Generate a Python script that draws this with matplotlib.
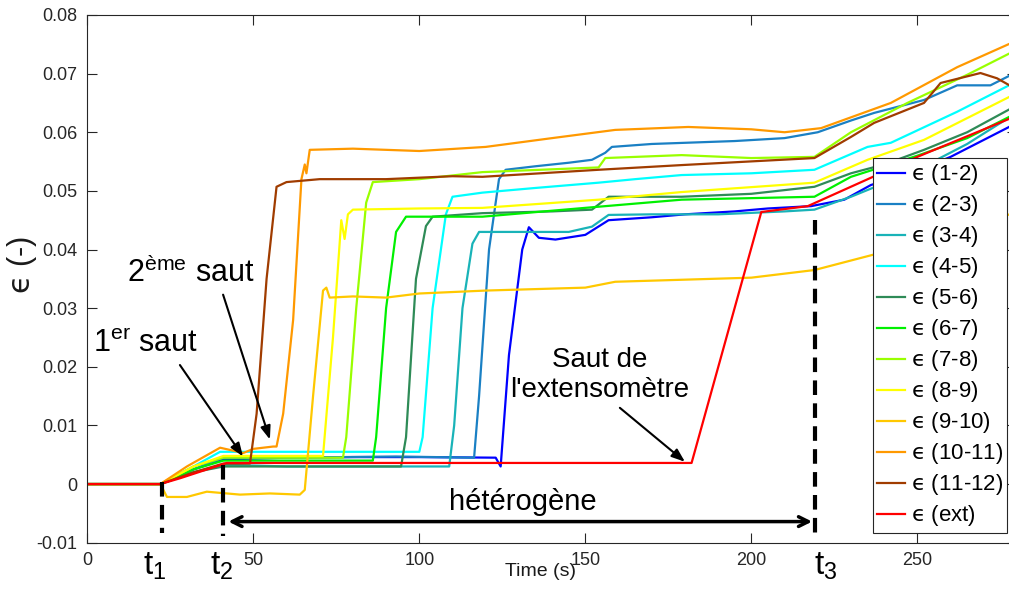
import matplotlib
matplotlib.use("Agg")
import matplotlib.pyplot as plt

plt.rcParams['font.family'] = ['Liberation Sans', 'DejaVu Sans']
plt.rcParams['mathtext.fontset'] = 'dejavusans'

# --- data (time in s, strain in -) ---
t_12 = [0, 22, 32, 41, 60, 80, 100, 123, 124.5, 127, 131, 133, 136, 141, 150, 157, 170, 180, 195, 205, 218, 228, 236, 250, 260, 279]
e_12 = [0, 0, 0.0025, 0.0042, 0.0045, 0.0046, 0.0046, 0.0045, 0.003, 0.022, 0.040, 0.0438, 0.042, 0.0417, 0.0425, 0.045, 0.0455, 0.046, 0.0465, 0.047, 0.0474, 0.0485, 0.051, 0.0535, 0.0558, 0.0613]

t_23 = [0, 22, 32, 41, 60, 93, 116.5, 118, 121, 124, 126, 135, 145, 152, 156, 158, 170, 180, 195, 210, 220, 230, 237, 252, 262, 272, 279]
e_23 = [0, 0, 0.0025, 0.0045, 0.0045, 0.0047, 0.0045, 0.015, 0.040, 0.052, 0.0536, 0.0542, 0.0548, 0.0553, 0.0565, 0.0575, 0.058, 0.0582, 0.0585, 0.059, 0.060, 0.062, 0.0633, 0.0655, 0.068, 0.068, 0.070]

t_34 = [0, 22, 32, 41, 60, 80, 100, 109, 110.5, 113, 116, 118, 125, 132, 145, 152, 157, 170, 190, 210, 219, 230, 250, 265, 279]
e_34 = [0, 0, 0.002, 0.0033, 0.003, 0.003, 0.003, 0.003, 0.010, 0.030, 0.041, 0.043, 0.043, 0.043, 0.043, 0.0439, 0.0459, 0.046, 0.046, 0.0465, 0.0468, 0.049, 0.0536, 0.058, 0.063]

t_45 = [0, 22, 32, 40, 60, 80, 100, 101, 104, 108, 110, 119, 135, 154, 165, 179, 200, 219, 235, 242, 262, 279]
e_45 = [0, 0, 0.003, 0.0055, 0.0055, 0.0055, 0.0055, 0.008, 0.030, 0.046, 0.049, 0.0497, 0.0505, 0.0514, 0.052, 0.0527, 0.053, 0.0536, 0.0575, 0.0582, 0.0635, 0.0684]

t_56 = [0, 22, 32, 41, 60, 80, 94.5, 96, 99, 102, 104, 119, 140, 152, 157, 179, 200, 219, 230, 240, 252, 265, 279]
e_56 = [0, 0, 0.002, 0.003, 0.003, 0.003, 0.003, 0.008, 0.035, 0.044, 0.0456, 0.0462, 0.0465, 0.0468, 0.049, 0.049, 0.0495, 0.0507, 0.053, 0.0545, 0.057, 0.060, 0.0643]

t_67 = [0, 22, 32, 41, 60, 86, 87, 90, 93, 96, 119, 154, 179, 219, 230, 250, 265, 279]
e_67 = [0, 0, 0.0025, 0.004, 0.004, 0.004, 0.008, 0.030, 0.043, 0.0456, 0.0456, 0.0473, 0.0485, 0.049, 0.0524, 0.056, 0.059, 0.063]

t_78 = [0, 22, 32, 41, 60, 77, 78, 81, 84, 86, 100, 119, 154, 156, 179, 200, 219, 230, 247, 265, 279]
e_78 = [0, 0, 0.003, 0.0045, 0.0045, 0.0045, 0.008, 0.030, 0.048, 0.0515, 0.052, 0.0532, 0.054, 0.0556, 0.0561, 0.0556, 0.0558, 0.060, 0.065, 0.0698, 0.0738]

t_89 = [0, 22, 32, 41, 60, 71, 74, 76.5, 77.5, 78.5, 80, 100, 119, 154, 179, 219, 235, 252, 279]
e_89 = [0, 0, 0.003, 0.0048, 0.0048, 0.0048, 0.025, 0.045, 0.0418, 0.046, 0.0468, 0.047, 0.0471, 0.0485, 0.0498, 0.0514, 0.0553, 0.0587, 0.0664]

t_910 = [0, 22, 24, 30, 36, 46, 55, 64, 65.5, 68, 71, 72, 73, 80, 90, 100, 120, 150, 159, 200, 219, 240, 260, 279]
e_910 = [0, 0, -0.0022, -0.0022, -0.0013, -0.0018, -0.0016, -0.0018, -0.001, 0.015, 0.033, 0.0335, 0.0318, 0.032, 0.0318, 0.0325, 0.033, 0.0335, 0.0345, 0.0352, 0.0365, 0.0396, 0.043, 0.0462]

t_1011 = [0, 22, 30, 40, 47, 50, 56, 57, 59, 62, 64.5, 65.5, 66, 67, 80, 100, 120, 140, 159, 181, 200, 210, 221, 242, 262, 279]
e_1011 = [0, 0, 0.003, 0.0062, 0.0053, 0.006, 0.0064, 0.0064, 0.012, 0.028, 0.052, 0.0545, 0.053, 0.057, 0.0572, 0.0568, 0.0575, 0.059, 0.0604, 0.0609, 0.0605, 0.060, 0.0607, 0.065, 0.0711, 0.0754]

t_1112 = [0, 22, 32, 41, 49, 51, 54, 57, 60, 70, 90, 110, 119, 154, 179, 219, 230, 237, 252, 257, 269, 274, 279]
e_1112 = [0, 0, 0.002, 0.0035, 0.0035, 0.012, 0.035, 0.0507, 0.0515, 0.052, 0.052, 0.0525, 0.0524, 0.0536, 0.0544, 0.0556, 0.0592, 0.0616, 0.065, 0.0684, 0.0701, 0.0692, 0.0676]

t_ext = [0, 22, 28, 42, 182, 203, 217, 250, 279]
e_ext = [0, 0, 0.001, 0.0036, 0.0036, 0.0464, 0.0474, 0.0558, 0.0626]

labels = ["(1-2)", "(2-3)", "(3-4)", "(4-5)", "(5-6)", "(6-7)",
          "(7-8)", "(8-9)", "(9-10)", "(10-11)", "(11-12)", "(ext)"]
colors = ["#0000ff", "#1a80c4", "#19b3b8", "#00ffff", "#2e8b57", "#00f000",
          "#99ff00", "#ffff00", "#ffc800", "#ff9900", "#a03c00", "#ff0000"]
series = [(t_12, e_12), (t_23, e_23), (t_34, e_34), (t_45, e_45), (t_56, e_56),
          (t_67, e_67), (t_78, e_78), (t_89, e_89), (t_910, e_910),
          (t_1011, e_1011), (t_1112, e_1112), (t_ext, e_ext)]

# characteristic times
t1, t2, t3 = 22.4, 41.0, 219.2

EPS = "$\\mathrm{\u03f5}$"

fig = plt.figure(figsize=(10.09, 5.99), dpi=100)
ax = fig.add_axes([0.0865, 0.094, 0.9214, 0.881])

for (t, e), lab, c in zip(series, labels, colors):
    ax.plot(t, e, color=c, lw=1.6, label=EPS + " " + lab)

ax.set_xlim(0, 280)
ax.set_ylim(-0.01, 0.08)
ax.set_xticks([0, 50, 100, 150, 200, 250])
yt = [-0.01, 0, 0.01, 0.02, 0.03, 0.04, 0.05, 0.06, 0.07, 0.08]
ax.set_yticks(yt)
ax.set_yticklabels(["-0.01", "0", "0.01", "0.02", "0.03", "0.04", "0.05", "0.06", "0.07", "0.08"])
ax.tick_params(direction='in', length=7, width=0.8, top=True, right=True,
               labelsize=13, colors='0.15', pad=7)
for s in ax.spines.values():
    s.set_color('0.15')
    s.set_linewidth(0.8)

ax.set_xlabel("Time (s)", fontsize=14, color='0.1')
ax.xaxis.set_label_coords(0.487, -0.038)
ax.set_ylabel(EPS + " (-)", fontsize=22, color='0.1')
ax.yaxis.set_label_coords(-0.052, 0.527)

# dashed markers at t1, t2, t3
ax.plot([t1, t1], [0.0004, -0.0083], color='k', lw=3, dashes=(3.5, 2))
ax.plot([t2, t2], [0.0033, -0.0089], color='k', lw=3, dashes=(3.5, 2))
ax.plot([t3, t3], [0.045, -0.0085], color='k', lw=3, dashes=(3.5, 2))

for tx, lab in [(16.8, "1"), (37.0, "2"), (218.8, "3")]:
    ax.text(tx, -0.0154, "t$_{\\mathregular{%s}}$" % lab, fontsize=24,
            ha='left', va='baseline', clip_on=False)

# heterogeneous phase
ax.annotate("", xy=(218.3, -0.0064), xytext=(42.5, -0.0064),
            arrowprops=dict(arrowstyle="<->,head_length=0.7,head_width=0.35",
                            lw=2.5, color='k', shrinkA=0, shrinkB=0))
ax.text(131.3, -0.0044, "hétérogène", fontsize=21, ha='center', va='baseline')

# jump annotations
arrow = dict(arrowstyle="-|>,head_length=0.8,head_width=0.3", lw=1.5,
             color='k', shrinkA=0, shrinkB=0)
ax.text(1.7, 0.0226, "1$^{\\mathregular{er}}$ saut", fontsize=22, va='baseline')
ax.annotate("", xy=(46.9, 0.0047), xytext=(27.9, 0.0203), arrowprops=arrow)
ax.text(12.0, 0.0345, "2$^{\\mathregular{ème}}$ saut", fontsize=22, va='baseline')
ax.annotate("", xy=(55.0, 0.0076), xytext=(40.9, 0.0323), arrowprops=arrow)
ax.text(154.4, 0.0149, "Saut de\nl'extensomètre", fontsize=20, ha='center',
        va='baseline', multialignment='center', linespacing=1.2)
ax.annotate("", xy=(180.0, 0.0038), xytext=(160.4, 0.013), arrowprops=arrow)

leg = ax.legend(loc='upper left', bbox_to_anchor=(873 / 1009, 1 - 158 / 599),
                bbox_transform=fig.transFigure, borderaxespad=0, fontsize=16,
                fancybox=False, framealpha=1, edgecolor='0.15',
                handlelength=1.25, handletextpad=0.25, labelspacing=0.27,
                borderpad=0.2)
leg.get_frame().set_linewidth(0.8)

fig.savefig("out.png", dpi=100)
